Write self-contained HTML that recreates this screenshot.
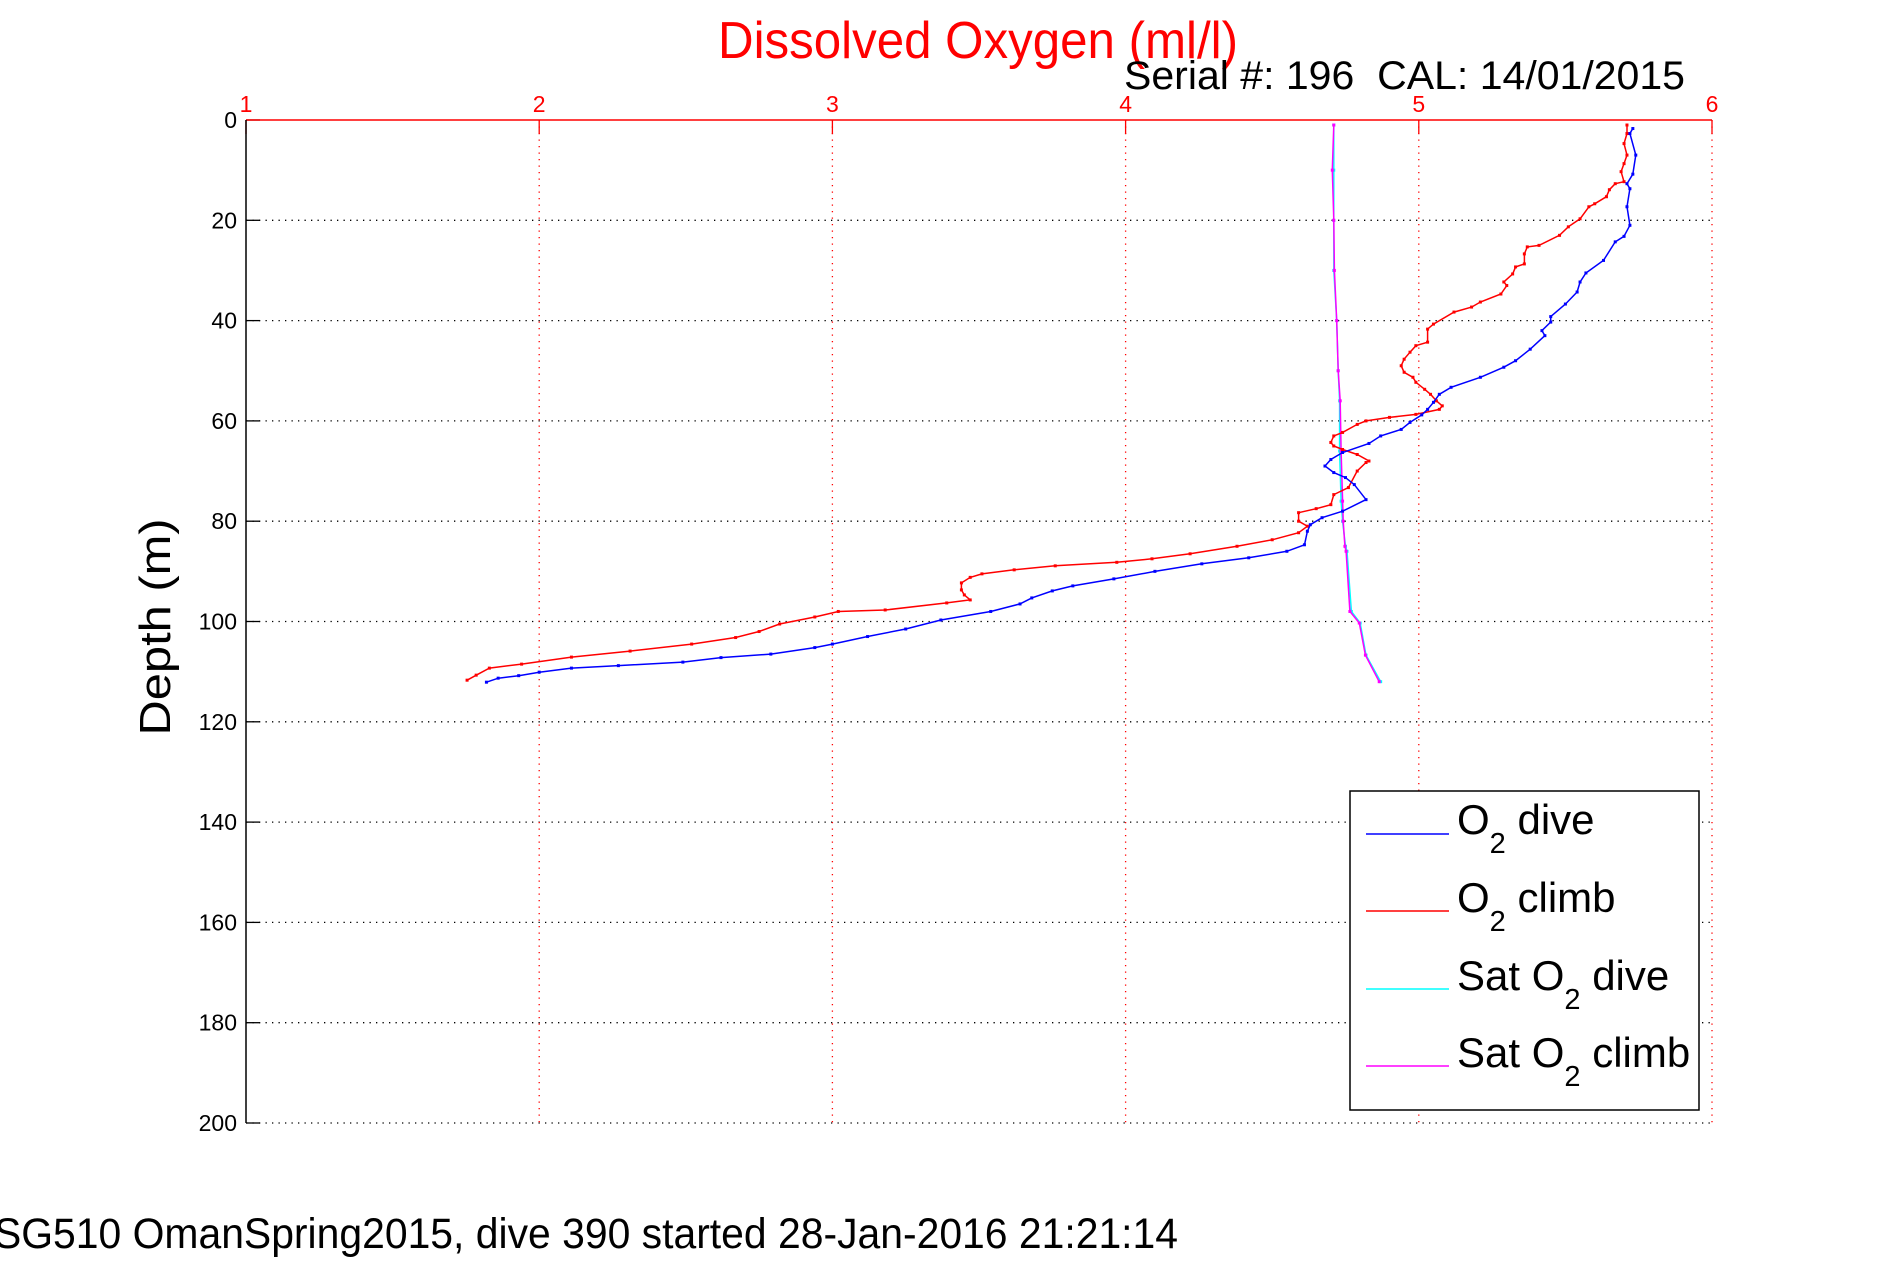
<!DOCTYPE html>
<html><head><meta charset="utf-8"><style>
html,body{margin:0;padding:0;background:#fff;}
svg{display:block;font-family:"Liberation Sans",sans-serif;}
</style></head><body>
<svg id="chart" width="1891" height="1262" viewBox="0 0 1891 1262">
<g id="grid"></g>
<g id="axes"></g>
<g id="series"></g>
<text x="978" y="58" font-size="52" fill="#ff0000" text-anchor="middle" textLength="520" lengthAdjust="spacingAndGlyphs">Dissolved Oxygen (ml/l)</text>
<text x="1124" y="89" font-size="40" fill="#000" textLength="561" lengthAdjust="spacingAndGlyphs">Serial #: 196&#160;&#160;CAL: 14/01/2015</text>
<text transform="translate(170,627) rotate(-90)" font-size="44" fill="#000" text-anchor="middle" textLength="217" lengthAdjust="spacingAndGlyphs">Depth (m)</text>
<text x="-6" y="1248" font-size="43" fill="#000" textLength="1184" lengthAdjust="spacingAndGlyphs">SG510 OmanSpring2015, dive 390 started 28-Jan-2016 21:21:14</text>
<g>
<rect x="1350" y="791" width="349" height="319" fill="#fff" stroke="#000" stroke-width="1.5"/>
<g><line x1="1366" y1="834" x2="1449" y2="834" stroke="#0000ff" stroke-width="1.5"/><text x="1457" y="834" font-size="42">O<tspan font-size="29" dy="19">2</tspan><tspan dy="-19"> dive</tspan></text></g>
<g><line x1="1366" y1="911" x2="1449" y2="911" stroke="#ff0000" stroke-width="1.5"/><text x="1457" y="912" font-size="42">O<tspan font-size="29" dy="19">2</tspan><tspan dy="-19"> climb</tspan></text></g>
<g><line x1="1366" y1="989" x2="1449" y2="989" stroke="#00ffff" stroke-width="1.5"/><text x="1457" y="990" font-size="42">Sat O<tspan font-size="29" dy="19">2</tspan><tspan dy="-19"> dive</tspan></text></g>
<g><line x1="1366" y1="1066" x2="1449" y2="1066" stroke="#ff00ff" stroke-width="1.5"/><text x="1457" y="1067" font-size="42">Sat O<tspan font-size="29" dy="19">2</tspan><tspan dy="-19"> climb</tspan></text></g>
</g>
</svg>
<script>
const xTicks = [1, 2, 3, 4, 5, 6];
const yTicks = [0, 20, 40, 60, 80, 100, 120, 140, 160, 180, 200];
const diveDepth = [1.7,2.7,7,10.8,12.7,13.7,17.3,21,23.2,24.3,28,30.5,32.3,34.3,36.7,39.2,40.3,42,43,45.7,48,49.3,51.3,53.3,54.7,56.3,57.7,58.8,60.3,61.7,63,64.5,66.3,67.7,69,70.3,71.3,72.7,75.7,78,79.3,80.7,82,84.7,86,87.3,88.5,90,91.5,92.9,93.9,95.3,96.5,98,99.7,101.5,103,104.5,105.2,106.5,107.2,108.1,108.8,109.3,110.1,110.8,111.3,112.1];
const diveO2 = [5.73,5.72,5.74,5.73,5.71,5.72,5.71,5.72,5.70,5.67,5.63,5.57,5.55,5.54,5.50,5.45,5.45,5.42,5.43,5.38,5.33,5.29,5.21,5.11,5.07,5.05,5.03,5.01,4.97,4.94,4.87,4.83,4.74,4.70,4.68,4.71,4.75,4.78,4.82,4.74,4.67,4.63,4.62,4.61,4.55,4.42,4.26,4.10,3.96,3.82,3.75,3.68,3.64,3.54,3.37,3.25,3.12,3.00,2.94,2.79,2.62,2.49,2.27,2.11,2.00,1.93,1.86,1.82];
const climbDepth = [1,2.7,4.7,7,8.7,10.3,12.3,12.7,13.9,15.3,16.7,17.3,19.7,21.3,23,25,25.3,26.7,28.7,29.3,30.7,32.3,33,34.7,36.3,37.3,38.3,40.7,41.7,44.3,45,46.3,47.7,49,50.3,51.3,52.3,53.7,54.7,56,57,57.7,58.7,59.3,60,60.7,62.3,63,64.3,65,65.7,66.7,68,68.3,70,73.3,74.7,76.7,77.5,78.3,80,81,82.3,83.7,85,86.5,87.5,88.2,88.9,89.7,90.5,91.2,92.3,93.7,94.7,95.7,96.3,97.7,98,99.1,100.5,102,103.2,104.5,105.9,107.1,108.5,109.3,110.7,111.7];
const climbO2 = [5.71,5.71,5.70,5.71,5.70,5.69,5.70,5.67,5.65,5.64,5.60,5.58,5.55,5.51,5.48,5.41,5.37,5.36,5.36,5.33,5.32,5.29,5.30,5.28,5.21,5.18,5.12,5.05,5.03,5.03,4.99,4.97,4.95,4.94,4.95,4.98,4.99,5.02,5.04,5.06,5.08,5.07,4.99,4.90,4.82,4.79,4.74,4.71,4.70,4.71,4.74,4.79,4.83,4.82,4.79,4.76,4.71,4.70,4.65,4.59,4.59,4.62,4.59,4.50,4.38,4.22,4.09,3.97,3.76,3.62,3.51,3.47,3.44,3.44,3.45,3.47,3.39,3.18,3.02,2.94,2.82,2.75,2.67,2.52,2.31,2.11,1.94,1.83,1.785,1.754];
const satDepth = [1,10,20,30,40,50,56,66,76,80,85,86,98,100.3,106.7,112];
const satDiveO2 = [4.71,4.71,4.71,4.71,4.72,4.725,4.73,4.73,4.735,4.74,4.75,4.755,4.77,4.80,4.82,4.87];
const satClimbO2 = [4.71,4.705,4.71,4.712,4.72,4.725,4.732,4.735,4.74,4.742,4.748,4.752,4.765,4.797,4.818,4.865];

const L=246, R=1712, T=120, B=1123;
const NS="http://www.w3.org/2000/svg";
const xS = v => L + (v - 1) / 5 * (R - L);
const yS = d => T + d / 200 * (B - T);
function mk(tag, attrs, parent){const e=document.createElementNS(NS,tag);for(const k in attrs)e.setAttribute(k,attrs[k]);parent.appendChild(e);return e;}
const grid=document.getElementById('grid'), axes=document.getElementById('axes'), series=document.getElementById('series');

yTicks.forEach(t=>{
  const y=yS(t);
  if(t>0){const g=mk('line',{x1:L,y1:y,x2:R,y2:y,stroke:'#000','stroke-width':1.3,'stroke-dasharray':'1.3 5.2'},grid);
  
  }
  const tk=mk('line',{x1:L,y1:y,x2:L+14,y2:y,stroke:'#000','stroke-width':1.3},axes);
  
  
  const lb=mk('text',{x:237,y:y+8,'font-size':23,'text-anchor':'end',fill:'#000'},axes);
  lb.textContent=t;
  
  
});
xTicks.forEach(t=>{
  const x=xS(t);
  if(t>1){const g=mk('line',{x1:x,y1:T,x2:x,y2:B,stroke:'#ff0000','stroke-width':1.3,'stroke-dasharray':'1.3 5.2'},grid);
  
  }
  const tk=mk('line',{x1:x,y1:T,x2:x,y2:T+14,stroke:'#ff0000','stroke-width':1.3},axes);
  
  
  const lb=mk('text',{x:x,y:112,'font-size':23,'text-anchor':'middle',fill:'#ff0000'},axes);
  lb.textContent=t;
  
  
});
const ta=mk('line',{x1:L,y1:T,x2:R,y2:T,stroke:'#ff0000','stroke-width':1.5},axes);


const la=mk('line',{x1:L,y1:T,x2:L,y2:B,stroke:'#000','stroke-width':1.5},axes);



function drawSeries(vals, depths, color, name){
  const g=mk('g',{},series);
  
  
  const pts=vals.map((v,i)=>xS(v).toFixed(1)+','+yS(depths[i]).toFixed(1)).join(' ');
  const pl=mk('polyline',{points:pts,fill:'none',stroke:color,'stroke-width':1.5},g);
  
  
  vals.forEach((v,i)=>{
    const m=mk('rect',{x:xS(v)-1.5,y:yS(depths[i])-1.5,width:3,height:3,fill:color},g);
    
    
  });
}
drawSeries(satDiveO2, satDepth, '#00ffff', 'sat-o2-dive-series');
drawSeries(satClimbO2, satDepth, '#ff00ff', 'sat-o2-climb-series');
drawSeries(climbO2, climbDepth, '#ff0000', 'o2-climb-series');
drawSeries(diveO2, diveDepth, '#0000ff', 'o2-dive-series');
</script>
</body></html>
